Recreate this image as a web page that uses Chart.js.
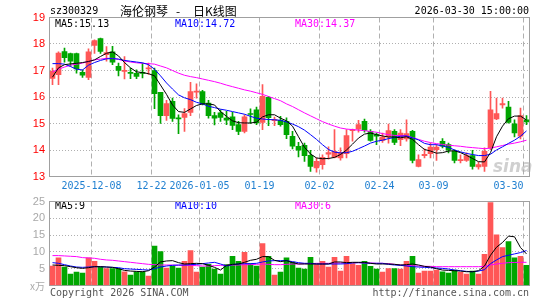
<!DOCTYPE html>
<html lang="zh">
<head>
<meta charset="UTF-8">
<title>海伦钢琴 日K线图</title>
<script src="https://cdn.jsdelivr.net/npm/chart.js"></script>
<style>
  body { margin: 0; background: #fff; }
  .wrap { position: relative; width: 545px; height: 300px; }
  .wrap canvas { position: absolute; left: 0; top: 0; }
</style>
</head>
<body>
<div class="wrap">
  <canvas id="kChart" width="545" height="300"></canvas>
  <canvas id="volChart" width="545" height="300"></canvas>
</div>
<script>
// daily bars 2025-11-27 .. 2026-03-30 (80 trading days)
const openP  = [16.70,16.84,17.71,17.64,17.64,16.93,16.74,17.95,18.20,17.60,
                17.70,17.16,16.97,16.93,16.89,16.93,17.06,17.00,16.18,15.30,
                15.84,15.21,15.23,15.42,16.18,16.20,15.77,15.30,15.40,15.20,
                15.25,14.96,14.70,15.36,15.52,15.04,15.99,15.11,15.12,15.08,
                14.52,14.14,14.18,13.80,13.32,13.45,13.84,13.72,13.70,13.86,
                14.73,14.79,15.08,14.70,14.58,14.36,14.49,14.70,14.39,14.42,
                14.70,13.38,13.79,13.86,14.01,14.33,14.20,13.95,13.60,13.61,
                13.79,13.36,13.38,14.08,15.17,15.70,15.62,14.99,14.52,15.14];
const closeP = [16.97,17.66,17.48,17.35,17.06,16.82,17.70,18.13,17.72,17.68,
                17.31,17.00,17.00,16.89,16.78,16.89,17.10,16.13,15.30,15.75,
                15.19,15.17,15.37,16.20,16.22,15.75,15.30,15.20,15.23,15.13,
                14.93,14.70,15.25,15.34,15.02,16.03,15.22,15.14,14.96,14.58,
                14.14,13.99,13.79,13.38,13.57,13.72,13.90,13.95,13.89,14.54,
                14.77,14.96,14.74,14.36,14.52,14.49,14.73,14.29,14.64,14.62,
                13.61,13.64,13.84,14.11,14.11,14.14,13.99,13.61,13.64,13.79,
                13.38,13.45,13.95,15.52,15.37,15.75,15.04,14.64,15.30,15.06];
const highP  = [17.09,17.70,17.85,17.66,17.66,17.03,17.82,18.16,18.22,17.90,
                17.91,17.28,17.53,17.09,17.03,17.28,17.28,17.09,16.18,15.87,
                15.96,15.33,15.56,16.55,16.50,16.25,15.87,15.42,15.52,15.46,
                15.42,15.08,15.33,15.55,15.62,16.47,16.03,15.24,15.27,15.21,
                14.70,14.29,14.26,13.99,13.70,13.82,14.12,14.77,14.08,14.77,
                14.79,15.12,15.17,14.77,14.64,14.64,14.98,14.77,14.77,15.14,
                14.74,13.82,14.04,14.26,14.20,14.43,14.26,14.01,13.82,13.89,
                13.99,13.54,14.08,16.21,15.96,15.96,15.84,15.14,15.58,15.30];
const lowP   = [16.47,16.47,17.31,17.16,16.90,16.74,16.65,17.64,17.64,17.35,
                17.22,16.80,16.68,16.69,16.69,16.72,16.85,15.56,15.00,15.12,
                15.08,14.62,14.70,15.30,15.96,15.70,15.20,14.95,15.08,14.96,
                14.77,14.58,14.64,15.00,14.96,14.77,14.92,14.92,14.90,14.43,
                14.04,13.74,13.57,13.19,13.16,13.28,13.65,13.70,13.62,13.70,
                14.33,14.67,14.67,14.33,14.20,14.29,14.26,14.20,14.16,14.33,
                13.51,13.36,13.70,13.70,13.61,14.08,13.89,13.51,13.51,13.57,
                13.28,13.28,13.19,14.01,15.14,15.58,15.01,14.49,14.42,14.96];
// volume, 万手
const volume = [5.8,8.2,5.5,3.4,4.0,3.7,8.2,7.2,5.5,5.0,
                5.0,5.0,4.1,3.1,4.1,4.1,2.8,11.7,10.1,5.2,
                5.8,5.2,7.2,10.4,4.0,5.5,6.3,4.9,3.4,6.2,
                8.7,7.2,9.9,6.5,5.8,12.5,8.7,3.1,4.0,8.2,
                7.0,5.2,4.9,8.4,6.2,7.2,5.5,8.4,4.3,8.7,
                6.5,6.0,7.2,5.7,4.9,4.0,5.0,5.0,4.9,7.2,
                8.7,3.7,4.3,4.3,4.6,4.1,3.7,4.6,3.9,3.4,
                4.3,3.4,9.3,24.7,15.1,11.3,13.1,8.2,8.7,6.0];

const ma5  = [16.75,17.10,17.22,17.25,17.27,17.30,17.34,17.40,17.53,17.65,
              17.70,17.55,17.30,17.10,16.95,16.92,16.88,16.80,16.45,16.10,
              15.70,15.45,15.42,15.55,15.68,15.74,15.74,15.70,15.45,15.27,
              15.10,15.03,15.02,15.02,15.05,15.25,15.33,15.33,15.20,15.10,
              14.90,14.50,14.10,13.85,13.70,13.67,13.68,13.72,13.83,14.00,
              14.22,14.45,14.60,14.64,14.58,14.53,14.49,14.49,14.46,14.50,
              14.40,14.20,14.02,13.96,13.88,13.90,13.96,13.97,13.90,13.80,
              13.68,13.56,13.55,13.90,14.50,14.90,15.18,15.28,15.28,15.13];
const ma10 = [17.26,17.26,17.24,17.15,17.05,17.02,17.20,17.30,17.38,17.44,
              17.45,17.43,17.38,17.35,17.32,17.29,17.22,17.05,16.80,16.53,
              16.30,16.08,15.97,15.90,15.80,15.74,15.65,15.60,15.54,15.50,
              15.45,15.40,15.35,15.27,15.20,15.17,15.15,15.14,15.12,15.06,
              14.98,14.88,14.75,14.58,14.40,14.20,14.02,13.92,13.89,13.90,
              13.95,14.05,14.15,14.26,14.33,14.37,14.43,14.47,14.52,14.53,
              14.46,14.38,14.25,14.20,14.20,14.15,14.10,14.00,13.93,13.87,
              13.83,13.79,13.79,13.84,14.00,14.12,14.25,14.37,14.52,14.72];
const ma30 = [16.95,17.05,17.13,17.20,17.24,17.28,17.34,17.40,17.43,17.46,
              17.46,17.42,17.36,17.32,17.29,17.27,17.26,17.24,17.17,17.10,
              17.00,16.90,16.82,16.77,16.73,16.68,16.63,16.58,16.52,16.45,
              16.39,16.33,16.27,16.22,16.16,16.10,16.02,15.94,15.86,15.74,
              15.64,15.52,15.40,15.29,15.18,15.07,14.98,14.90,14.83,14.79,
              14.77,14.75,14.73,14.70,14.67,14.62,14.58,14.55,14.54,14.54,
              14.47,14.40,14.33,14.28,14.24,14.21,14.18,14.16,14.14,14.11,
              14.09,14.07,14.05,14.07,14.12,14.17,14.22,14.26,14.31,14.37];

const volMa5  = [6.1,6.0,5.9,5.6,5.3,5.1,5.3,5.6,5.6,5.5,
                 5.4,5.0,4.5,4.3,4.2,4.1,4.4,5.5,7.0,7.3,
                 7.4,6.8,6.4,6.5,6.6,6.5,6.0,5.4,4.6,6.0,
                 6.3,6.4,6.9,7.5,7.8,8.6,8.6,7.5,7.1,7.4,
                 6.8,6.4,6.4,6.4,6.4,6.4,6.4,7.0,7.0,6.8,
                 6.9,6.9,6.9,6.6,6.4,6.4,6.4,6.3,6.1,6.2,
                 6.4,6.1,5.7,5.5,5.0,4.6,4.5,4.4,4.3,4.1,
                 4.1,4.4,5.8,9.0,11.4,12.8,14.7,14.5,11.3,9.4];
const volMa10 = [6.8,6.6,6.2,5.8,5.5,5.4,5.5,5.6,5.6,5.5,
                 5.4,5.3,5.0,4.9,4.8,4.7,4.6,5.0,5.5,5.8,
                 6.0,6.1,6.1,6.2,6.3,6.5,6.7,6.9,6.4,5.8,
                 6.2,6.4,6.5,6.5,6.6,7.0,7.3,7.4,7.4,7.4,
                 7.1,6.8,6.6,6.6,6.4,6.4,6.4,6.4,6.4,6.5,
                 6.7,6.8,6.7,6.6,6.6,6.6,6.3,6.1,6.0,5.8,
                 5.6,5.5,5.4,5.3,5.2,5.1,4.9,4.6,4.4,4.2,
                 4.1,4.3,4.7,6.5,7.6,8.6,9.0,9.4,9.8,10.4];
const volMa30 = [8.9,8.9,8.8,8.7,8.6,8.3,8.2,8.1,7.8,7.6,
                 7.5,7.3,7.1,6.9,6.7,6.5,6.3,6.2,6.1,6.1,
                 6.1,6.0,6.0,6.0,5.9,5.8,5.8,5.9,6.0,6.0,
                 6.1,6.1,6.2,6.2,6.3,6.4,6.3,6.2,6.2,6.3,
                 6.4,6.4,6.5,6.5,6.6,6.6,6.6,6.7,6.7,6.8,
                 6.8,6.8,6.7,6.7,6.6,6.6,6.5,6.3,6.1,6.0,
                 5.9,5.8,5.7,5.7,5.6,5.6,5.6,5.6,5.6,5.6,
                 5.6,5.6,5.7,6.1,6.4,6.6,6.8,6.85,6.9,6.9];

const tickIndex  = [7, 17, 25, 35, 45, 55, 64, 79];
const tickLabels = ['2025-12-08', '12-22', '2026-01-05', '01-19', '02-02', '02-24', '03-09', '03-30'];

const RED = '#ff5757', GREEN = '#00a600';
const FRAME = '#a0a0a0', GRID = '#b0b0b0';
const MONO = '"DejaVu Sans Mono", monospace';
const last = openP.length - 1;

const barColor = c => closeP[c.dataIndex] >= openP[c.dataIndex] ? RED : GREEN;
const pts = arr => arr.map((v, i) => ({ x: i, y: v }));
const maLine = (arr, color) => ({
    type: 'line', data: pts(arr), borderColor: color, borderWidth: 1,
    pointRadius: 0, tension: 0, order: 0
});

function xAxis(showLabels, height) {
    return {
        type: 'linear', min: -0.5, max: last + 0.5, offset: false,
        afterBuildTicks: s => { s.ticks = [-0.5].concat(tickIndex.map(i => i - 0.5)).map(v => ({ value: v })); },
        ticks: {
            display: showLabels, autoSkip: false, maxRotation: 0, align: 'inner', padding: 4,
            color: '#1f7fd0', font: { family: MONO, size: 10 },
            callback: v => { const k = tickIndex.indexOf(v + 0.5); return k >= 0 ? tickLabels[k] : ''; }
        },
        grid: { offset: false, drawTicks: false, color: c => c.index === 0 ? 'rgba(0,0,0,0)' : GRID },
        border: { display: false, dash: [5, 3] },
        afterFit: s => { s.height = height; }
    };
}

// frame round the plot area
const framePlugin = {
    id: 'frame',
    beforeDatasetsDraw(chart) {
        const a = chart.chartArea, ctx = chart.ctx;
        ctx.save();
        ctx.strokeStyle = FRAME;
        ctx.lineWidth = 1;
        ctx.strokeRect(a.left, a.top, a.right - a.left, a.bottom - a.top);
        ctx.restore();
    }
};

// header, MA readouts, footer
const textPlugin = {
    id: 'texts',
    beforeDatasetsDraw(chart) {
        const ctx = chart.ctx;
        ctx.save();
        ctx.font = 'italic bold 17px "DejaVu Sans"';
        ctx.fillStyle = 'rgba(170,170,170,0.55)';
        ctx.textBaseline = 'alphabetic';
        ctx.fillText('sina', 493, 172);
        ctx.restore();
    },
    afterDraw(chart) {
        const ctx = chart.ctx;
        ctx.save();
        ctx.textBaseline = 'middle';
        ctx.font = '10px ' + MONO;
        ctx.fillStyle = '#000';
        ctx.textAlign = 'left';
        ctx.fillText('sz300329', 50, 11);
        ctx.textAlign = 'right';
        ctx.fillText('2026-03-30 15:00:00', 529, 11);
        ctx.textAlign = 'left';
        ctx.font = '12px "Noto Sans CJK SC"';
        ctx.fillText('海伦钢琴', 120, 11);
        ctx.fillText('-', 176, 11);
        ctx.fillText('日K线图', 193, 11);

        ctx.font = '10px ' + MONO;
        ctx.fillStyle = '#000';
        ctx.fillText('MA5:' + ma5[last].toFixed(2), 55, 24);
        ctx.fillStyle = '#0000ff';
        ctx.fillText('MA10:' + ma10[last].toFixed(2), 175, 24);
        ctx.fillStyle = '#ff00ff';
        ctx.fillText('MA30:' + ma30[last].toFixed(2), 295, 24);

        ctx.fillStyle = '#000';
        ctx.fillText('MA5:' + Math.floor(volMa5[last]), 55, 206);
        ctx.fillStyle = '#0000ff';
        ctx.fillText('MA10:' + Math.floor(volMa10[last]), 175, 206);
        ctx.fillStyle = '#ff00ff';
        ctx.fillText('MA30:' + Math.floor(volMa30[last]), 295, 206);

        ctx.fillStyle = '#555';
        ctx.fillText('Copyright 2026 SINA.COM', 50, 293);
        ctx.textAlign = 'right';
        ctx.fillText('http://finance.sina.com.cn', 529, 293);
        ctx.fillStyle = '#aaa';
        ctx.font = '10px "Noto Sans CJK SC"';
        ctx.fillText('x万', 45, 286);
        ctx.restore();
    }
};

const common = {
    responsive: false,
    animation: false,
    events: [],
    plugins: { legend: { display: false }, tooltip: { enabled: false } }
};

new Chart(document.getElementById('kChart'), {
    type: 'bar',
    data: {
        datasets: [
            maLine(ma5, '#000000'),
            maLine(ma10, '#0000ff'),
            maLine(ma30, '#ff00ff'),
            {
                data: openP.map((o, i) => ({ x: i, y: [o, closeP[i]] })),
                backgroundColor: barColor, borderWidth: 0,
                barThickness: 5, minBarLength: 1, grouped: false, order: 1
            },
            {
                data: lowP.map((l, i) => ({ x: i, y: [l, highP[i]] })),
                backgroundColor: barColor, borderWidth: 0,
                barThickness: 1, grouped: false, order: 2
            }
        ]
    },
    options: Object.assign({}, common, {
        layout: { padding: { top: 17.5, right: 15.5, left: 0, bottom: 0 } },
        scales: {
            x: xAxis(true, 123.5),
            y: {
                min: 13, max: 19,
                ticks: { stepSize: 1, color: '#ff0000', padding: 4.5, font: { family: 'Liberation Sans', size: 11 } },
                grid: { drawTicks: false, color: GRID },
                border: { display: false, dash: [1, 2] },
                afterFit: s => { s.width = 49.5; }
            }
        }
    }),
    plugins: [framePlugin, textPlugin]
});

new Chart(document.getElementById('volChart'), {
    type: 'bar',
    data: {
        datasets: [
            maLine(volMa5, '#000000'),
            maLine(volMa10, '#0000ff'),
            maLine(volMa30, '#ff00ff'),
            {
                data: pts(volume),
                backgroundColor: barColor, borderWidth: 0,
                barThickness: 5, grouped: false, order: 1
            }
        ]
    },
    options: Object.assign({}, common, {
        layout: { padding: { top: 201.5, right: 15.5, left: 0, bottom: 0 } },
        scales: {
            x: xAxis(false, 14.5),
            y: {
                min: 0, max: 25,
                ticks: {
                    stepSize: 5, color: '#a8a8a8', padding: 4.5,
                    font: { family: 'Liberation Sans', size: 11 },
                    callback: v => v === 0 ? '' : v
                },
                grid: { drawTicks: false, color: GRID },
                border: { display: false, dash: [1, 2] },
                afterFit: s => { s.width = 49.5; }
            }
        }
    }),
    plugins: [framePlugin]
});
</script>
</body>
</html>
